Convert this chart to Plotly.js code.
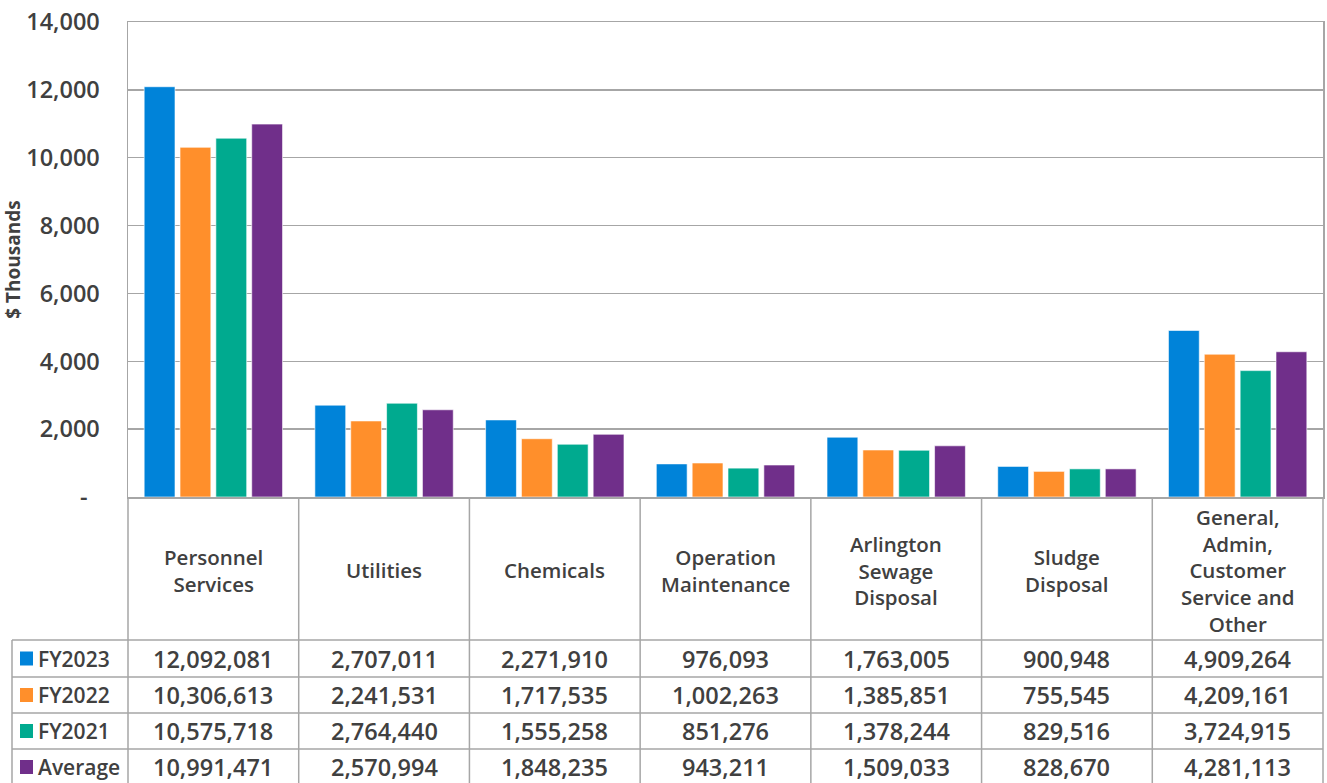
<!DOCTYPE html>
<html>
<head>
<meta charset="utf-8">
<script src="https://cdn.plot.ly/plotly-3.0.1.min.js"></script>
<style>html,body{margin:0;padding:0;background:#fff;}#chart{width:1327px;height:783px;}</style>
</head>
<body>
<div id="chart"></div>
<script>
const categories = ["Personnel<br>Services", "Utilities", "Chemicals", "Operation<br>Maintenance", "Arlington<br>Sewage<br>Disposal", "Sludge<br>Disposal", "General,<br>Admin,<br>Customer<br>Service and<br>Other"];
const seriesNames = ["FY2023", "FY2022", "FY2021", "Average"];
const fy2023 = [12092081, 2707011, 2271910, 976093, 1763005, 900948, 4909264];
const fy2022 = [10306613, 2241531, 1717535, 1002263, 1385851, 755545, 4209161];
const fy2021 = [10575718, 2764440, 1555258, 851276, 1378244, 829516, 3724915];
const average = [10991471, 2570994, 1848235, 943211, 1509033, 828670, 4281113];
const yTickVals = [0, 2000, 4000, 6000, 8000, 10000, 12000, 14000];
const yTickText = ["-\u00A0\u00A0", "2,000", "4,000", "6,000", "8,000", "10,000", "12,000", "14,000"];
const colors = ["#0083D9", "#FF8F2B", "#00AA8F", "#702F8A"];

const allSeries = [fy2023, fy2022, fy2021, average];
const xIdx = categories.map((c, i) => i);
const FONT = "Open Sans, Liberation Sans, Arial, sans-serif";
const TXT = "#404040";
const GRID = "#A6A6A6";
const W8 = 600;

// pixel helpers (plot area: x 128..1323, y 22..497)
const L = 128, R = 1323, T = 22, B = 497;
const px2p = px => (px - L) / (R - L);
const py2p = py => (B - py) / (B - T);
const catX = i => px2p(L + (i + 0.5) * (R - L) / categories.length);

const traces = allSeries.map((s, k) => ({
  type: "bar",
  name: seriesNames[k],
  x: xIdx,
  y: s.map(v => v / 1000),
  marker: {color: colors[k], line: {color: "rgba(255,255,255,0.6)", width: 1}},
  hoverinfo: "skip"
}));

const shapes = [];
const annotations = [];
const rowLines = [640, 677, 713, 749, 785];
const rowCenters = [658.5, 695, 731, 767];
const bottomP = py2p(786);
const lineStyle = {color: GRID, width: 1.5};

// vertical category lines
for (let i = 0; i <= categories.length; i++) {
  const xp = px2p(L + i * (R - L) / categories.length);
  shapes.push({type: "line", xref: "paper", yref: "paper", x0: xp, x1: xp, y0: 0, y1: bottomP, line: lineStyle});
}
// legend column left line
shapes.push({type: "line", xref: "paper", yref: "paper", x0: px2p(12), x1: px2p(12), y0: py2p(640), y1: bottomP, line: lineStyle});
// horizontal row lines
rowLines.forEach(py => {
  shapes.push({type: "line", xref: "paper", yref: "paper", x0: px2p(12), x1: 1, y0: py2p(py), y1: py2p(py), line: lineStyle});
});

// category labels
categories.forEach((c, i) => {
  annotations.push({x: catX(i), y: py2p(570), xref: "paper", yref: "paper", text: c, showarrow: false,
    xanchor: "center", yanchor: "middle", align: "center",
    font: {family: FONT, size: 20.5, color: TXT, weight: W8}});
});

// table rows
seriesNames.forEach((name, k) => {
  const cy = py2p(rowCenters[k]);
  shapes.push({type: "rect", xref: "paper", yref: "paper", x0: px2p(20), x1: px2p(33),
    y0: py2p(rowCenters[k] + 7), y1: py2p(rowCenters[k] - 7), fillcolor: colors[k], line: {width: 0}});
  annotations.push({x: px2p(36), y: cy, xref: "paper", yref: "paper", text: name, showarrow: false,
    xanchor: "left", yanchor: "middle", font: {family: FONT, size: 21, color: TXT, weight: W8}});
  allSeries[k].forEach((v, i) => {
    annotations.push({x: catX(i), y: cy, xref: "paper", yref: "paper", text: v.toLocaleString("en-US"), showarrow: false,
      xanchor: "center", yanchor: "middle", font: {family: FONT, size: 23.5, color: TXT, weight: W8}});
  });
});

const layout = {
  width: 1327, height: 783,
  margin: {l: L, r: 1327 - R, t: T, b: 783 - B, pad: 0},
  paper_bgcolor: "#fff", plot_bgcolor: "#fff",
  barmode: "group", bargap: 0.16, bargroupgap: 0.14,
  showlegend: false,
  font: {family: FONT, color: TXT},
  xaxis: {range: [-0.5, 6.5], showticklabels: false, ticks: "", showgrid: false, zeroline: false,
    showline: true, linecolor: GRID, linewidth: 1.5, mirror: true},
  yaxis: {range: [0, 14000], tickvals: yTickVals, ticktext: yTickText, showgrid: true, gridcolor: GRID, gridwidth: 1.5,
    zeroline: false, showline: true, linecolor: GRID, linewidth: 1.5, mirror: true, ticks: "",
    ticklabelstandoff: 22,
    tickfont: {family: FONT, size: 23.5, color: TXT, weight: W8},
    title: {text: "$ Thousands", standoff: 0, font: {family: FONT, size: 19, color: TXT, weight: 700}},
    automargin: false},
  shapes: shapes,
  annotations: annotations
};

Plotly.newPlot("chart", traces, layout, {displayModeBar: false, staticPlot: true});
</script>
</body>
</html>
